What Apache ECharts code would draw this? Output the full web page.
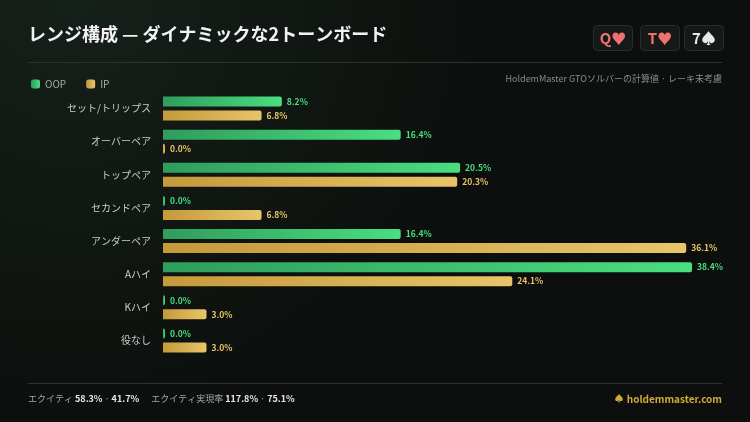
<!DOCTYPE html>
<html><head><meta charset="utf-8">
<script src="https://cdn.jsdelivr.net/npm/echarts@6/dist/echarts.min.js"></script>
<style>html,body{margin:0;padding:0;background:#0e1210;}#c{width:750px;height:422px;}</style>
</head><body><div id="c"></div>
<script>
const categories = ['セット/トリップス','オーバーペア','トップペア','セカンドペア','アンダーペア','Aハイ','Kハイ','役なし'];
const oop = [8.2,16.4,20.5,0.0,16.4,38.4,0.0,0.0];
const ip = [6.8,0.0,20.3,6.8,36.1,24.1,3.0,3.0];
const cards = [['Q♥','#f07070'],['T♥','#f07070'],['7♠','#e8e8e8']];
const F = '"Noto Sans CJK JP","Noto Sans",sans-serif';
const chart = echarts.init(document.getElementById('c'));
const cardEls = cards.map((c,i)=>{
  const xs=[593,640,684][i];
  return {type:'group',left:xs,top:25,children:[
    {type:'rect',shape:{x:0,y:0,width:39,height:25,r:4},style:{fill:'#151917',stroke:'#2a2f2c',lineWidth:1}},
    {type:'text',style:{x:19.5,y:12.5,text:c[0],fill:c[1],font:'bold 15px '+F,align:'center',verticalAlign:'middle'}}
  ]};
});
chart.setOption({
  backgroundColor:{type:'radial',x:0.1,y:0,r:1,colorStops:[{offset:0,color:'#16201a'},{offset:1,color:'#0c0f0d'}]},
  textStyle:{fontFamily:F},
  graphic:[
    {type:'text',left:28,top:25,style:{text:'レンジ構成 — ダイナミックな2トーンボード',fill:'#f2f2f2',font:'bold 18px '+F}},
    {type:'rect',shape:{x:28,y:62,width:694,height:1},style:{fill:'#2e3325'}},
    {type:'text',right:28,top:74,style:{text:'HoldemMaster GTOソルバーの計算値 · レーキ未考慮',fill:'#8a8f8b',font:'9px '+F}},
    {type:'rect',shape:{x:28,y:383,width:694,height:1},style:{fill:'#2e3325'}},
    {type:'text',left:28,top:394,style:{rich:{a:{fill:'#a7aba8',font:'9px '+F},b:{fill:'#e6e6e6',font:'bold 9px '+F}},text:'{a|エクイティ }{b|58.3%}{a| · }{b|41.7%}{a|      エクイティ実現率 }{b|117.8%}{a| · }{b|75.1%}'}},
    {type:'text',right:28,top:393,style:{rich:{a:{fill:'#d4a93a',font:'9px '+F},b:{fill:'#d4a93a',font:'bold 10px '+F}},text:'{a|♠} {b|holdemmaster.com}'}},
    ...cardEls
  ],
  legend:{left:26,top:74,itemWidth:9,itemHeight:9,itemGap:20,icon:'roundRect',textStyle:{color:'#a7aba8',fontSize:10},data:['OOP','IP']},
  grid:{left:163,right:58,top:92,bottom:65},
  xAxis:{type:'value',min:0,max:36.5,show:false},
  yAxis:{type:'category',inverse:true,data:categories,axisLine:{show:false},axisTick:{show:false},
    axisLabel:{color:'#c9cdca',fontSize:10,margin:12}},
  series:[
    {name:'OOP',type:'bar',data:oop,barWidth:10,barGap:'40%',clip:true,barMinHeight:2,
     itemStyle:{borderRadius:[0,2,2,0],color:{type:'linear',x:0,y:0,x2:1,y2:0,colorStops:[{offset:0,color:'#2f9d5c'},{offset:1,color:'#4ade80'}]}},
     label:{show:true,position:'right',distance:5,formatter:p=>p.value.toFixed(1)+'%',color:'#4ade80',fontSize:8.5,fontWeight:'bold'}},
    {name:'IP',type:'bar',data:ip,barWidth:10,clip:true,barMinHeight:2,
     itemStyle:{borderRadius:[0,2,2,0],color:{type:'linear',x:0,y:0,x2:1,y2:0,colorStops:[{offset:0,color:'#c49a3a'},{offset:1,color:'#e8c46a'}]}},
     label:{show:true,position:'right',distance:5,formatter:p=>p.value.toFixed(1)+'%',color:'#e8c46a',fontSize:8.5,fontWeight:'bold'}}
  ],
  color:['#4ade80','#e8c46a']
});
</script></body></html>
